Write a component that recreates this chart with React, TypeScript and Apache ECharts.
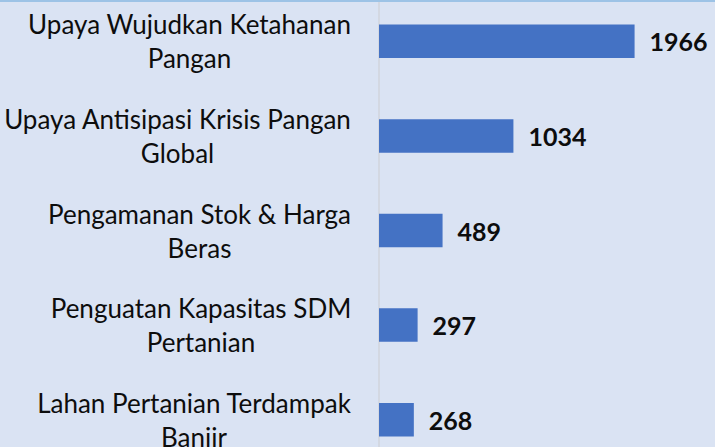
import React, { useEffect, useRef } from "react";
import * as echarts from "echarts";

const categories: string[] = [
  "Upaya Wujudkan Ketahanan\nPangan",
  "Upaya Antisipasi Krisis Pangan\nGlobal",
  "Pengamanan Stok & Harga\nBeras",
  "Penguatan Kapasitas SDM\nPertanian",
  "Lahan Pertanian Terdampak\nBanjir",
];
const values: number[] = [1966, 1034, 489, 297, 268];

const LABEL_FONT = "Lato";
const LABEL_SIZE = 26;

function measure(text: string): number {
  const c = document.createElement("canvas").getContext("2d");
  if (!c) return text.length * LABEL_SIZE * 0.5;
  c.font = `${LABEL_SIZE}px ${LABEL_FONT}`;
  return c.measureText(text).width;
}

export default function App() {
  const ref = useRef<HTMLDivElement>(null);
  useEffect(() => {
    document.body.style.margin = "0";
    if (!ref.current) return;
    const chart = echarts.init(ref.current, undefined, { renderer: "svg" });
    const rich: Record<string, any> = {};
    categories.forEach((c, i) => {
      const w = Math.max(...c.split("\n").map(measure));
      rich["r" + i] = {
        width: Math.ceil(w) + 1,
        align: "center",
        fontSize: LABEL_SIZE,
        lineHeight: 34,
        fontFamily: LABEL_FONT,
        color: "#0d0d0d",
      };
    });
    chart.setOption({
      animation: false,
      backgroundColor: "#dae3f3",
      grid: { left: 379, right: 11, top: 0, bottom: 0, containLabel: false },
      xAxis: {
        type: "value",
        min: 0,
        max: 2500,
        show: false,
        splitLine: { show: false },
      },
      yAxis: {
        type: "category",
        data: categories,
        inverse: true,
        axisLine: { show: true, lineStyle: { color: "#d0d4dc", width: 1.5 } },
        axisTick: { show: false },
        axisLabel: {
          margin: 27,
          align: "right",
          formatter: (v: string, i: number) =>
            v
              .split("\n")
              .map((l) => `{r${i}|${l}}`)
              .join("\n"),
          rich,
        },
      },
      series: [
        {
          type: "bar",
          data: values,
          barWidth: 33.5,
          itemStyle: { color: "#4472c4" },
          label: {
            show: true,
            position: "right",
            distance: 15,
            fontSize: 25,
            fontWeight: "bold",
            fontFamily: LABEL_FONT,
            color: "#0d0d0d",
          },
        },
      ],
    });
    return () => chart.dispose();
  }, []);
  return (
    <div
      style={{
        position: "relative",
        width: 715,
        height: 447,
        overflow: "hidden",
        background: "#dae3f3",
      }}
    >
      <div
        ref={ref}
        style={{ position: "absolute", left: 0, top: -6, width: 715, height: 473 }}
      />
      <div
        style={{
          position: "absolute",
          left: 0,
          top: 0,
          width: 715,
          height: 1.5,
          background: "#9dc3e6",
        }}
      />
    </div>
  );
}
